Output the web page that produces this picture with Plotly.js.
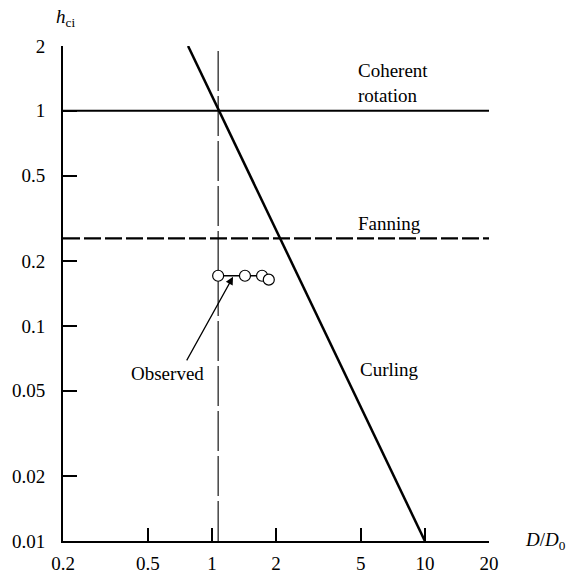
<!DOCTYPE html>
<html>
<head>
<meta charset="utf-8">
<script src="https://cdn.plot.ly/plotly-3.0.1.min.js"></script>
<style>html,body{margin:0;padding:0;background:#fff;}#chart{width:568px;height:574px;}</style>
</head>
<body>
<div id="chart"></div>
<script>
// ---- data ----
const xTickVals = [0.2, 0.5, 1, 2, 5, 10, 20];
const xTickText = ["0.2", "0.5", "1", "2", "5", "10", "20"];
const yTickVals = [0.01, 0.02, 0.05, 0.1, 0.2, 0.5, 1, 2];
const yTickText = ["0.01", "0.02", "0.05", "0.1", "0.2", "0.5", "1", "2"];

const coherentX = [0.2, 20];
const coherentY = [1, 1];
const fanningX = [0.2, 20];
const fanningY = [0.255, 0.255];
const curlingX = [0.773, 10];
const curlingY = [2, 0.01];
const boundaryX = [1.07, 1.07];
const boundaryY = [0.01, 2];
const observedX = [1.07, 1.43, 1.72, 1.85];
const observedY = [0.171, 0.171, 0.171, 0.164];

const labelCoherent = "Coherent<br>rotation";
const labelFanning = "Fanning";
const labelCurling = "Curling";
const labelObserved = "Observed";

const FONT = "Liberation Serif, Times New Roman, serif";
const FS = 19;
const L = Math.log10;

const traces = [
  {x: coherentX, y: coherentY, mode: "lines", line: {color: "#000", width: 2.2}, hoverinfo: "skip"},
  {x: fanningX, y: fanningY, mode: "lines", line: {color: "#000", width: 2.2, dash: "17px,4px"}, hoverinfo: "skip"},
  {x: curlingX, y: curlingY, mode: "lines", line: {color: "#000", width: 2.5}, hoverinfo: "skip"},
  {x: boundaryX, y: boundaryY, mode: "lines", line: {color: "#000", width: 1.1, dash: "40px,5px"}, hoverinfo: "skip"},
  {x: observedX, y: observedY, mode: "lines+markers", line: {color: "#000", width: 1.5},
   marker: {symbol: "circle", size: 11, color: "#fff", line: {width: 1.2, color: "#000"}}, hoverinfo: "skip"}
];

const layout = {
  width: 568, height: 574,
  margin: {l: 63, r: 79, t: 46, b: 33},
  paper_bgcolor: "#fff", plot_bgcolor: "#fff",
  showlegend: false,
  font: {family: FONT, size: FS, color: "#000"},
  xaxis: {
    type: "log", range: [L(0.2), L(20)],
    tickvals: xTickVals, ticktext: xTickText,
    ticks: "inside", ticklen: 13, tickwidth: 2, tickcolor: "#000",
    showline: true, linewidth: 2, linecolor: "#000",
    showgrid: false, zeroline: false, ticklabelstandoff: 4,
    tickfont: {family: FONT, size: FS, color: "#000"}
  },
  yaxis: {
    type: "log", range: [L(0.01), L(2)],
    tickvals: yTickVals, ticktext: yTickText,
    ticks: "inside", ticklen: 14, tickwidth: 2, tickcolor: "#000",
    showline: true, linewidth: 2, linecolor: "#000",
    showgrid: false, zeroline: false, ticklabelstandoff: 12,
    tickfont: {family: FONT, size: FS, color: "#000"}
  },
  annotations: [
    {x: L(4.75), y: L(1.35), xref: "x", yref: "y", text: labelCoherent, showarrow: false,
     xanchor: "left", yanchor: "middle", align: "left", font: {family: FONT, size: FS}},
    {x: L(4.75), y: L(0.298), xref: "x", yref: "y", text: labelFanning, showarrow: false,
     xanchor: "left", yanchor: "middle", font: {family: FONT, size: FS}},
    {x: L(4.85), y: L(0.0624), xref: "x", yref: "y", text: labelCurling, showarrow: false,
     xanchor: "left", yanchor: "middle", font: {family: FONT, size: FS}},
    {x: L(0.622), y: L(0.0598), xref: "x", yref: "y", text: labelObserved, showarrow: false,
     xanchor: "center", yanchor: "middle", font: {family: FONT, size: FS}},
    {x: L(1.257), y: L(0.169), xref: "x", yref: "y", ax: L(0.755), ay: L(0.068), axref: "x", ayref: "y",
     text: "", showarrow: true, arrowhead: 2, arrowsize: 1.3, arrowwidth: 1.2, arrowcolor: "#000"},
    {x: 0.005, y: 1.057, xref: "paper", yref: "paper", text: "<i>h</i><sub>ci</sub>", showarrow: false,
     xanchor: "center", yanchor: "middle", font: {family: FONT, size: FS}},
    {x: 1.08, y: 0.0, xref: "paper", yref: "paper", text: "<i>D</i>/<i>D</i><sub>0</sub>", showarrow: false,
     xanchor: "left", yanchor: "middle", font: {family: FONT, size: FS}}
  ]
};

Plotly.newPlot("chart", traces, layout, {displayModeBar: false, staticPlot: true});
</script>
</body>
</html>
